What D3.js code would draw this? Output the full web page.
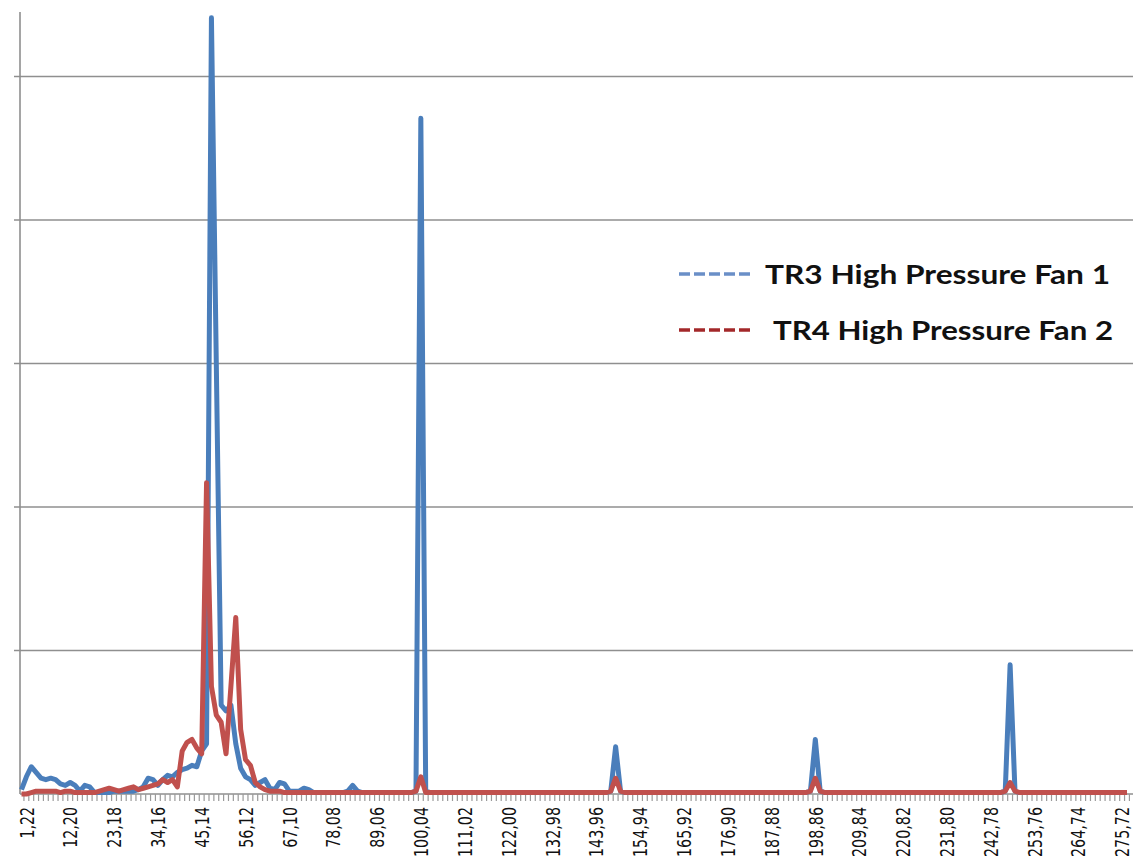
<!DOCTYPE html>
<html>
<head>
<meta charset="utf-8">
<script src="https://cdn.jsdelivr.net/npm/d3@7"></script>
<style>
  body { margin: 0; background: #fff; }
  svg { display: block; }
</style>
</head>
<body>
<div id="chart"></div>
<script>
// spectrum, one point per 1,22 Hz bin (index 0 .. 227)
var tr3 = [
  0.03, 0.12, 0.19, 0.15, 0.11, 0.10, 0.11, 0.10, 0.07, 0.06,
  0.08, 0.06, 0.02, 0.06, 0.05, 0.01, 0.01, 0.01, 0.01, 0.02,
  0.02, 0.02, 0.02, 0.02, 0.03, 0.05, 0.11, 0.10, 0.06, 0.10,
  0.13, 0.12, 0.15, 0.17, 0.18, 0.20, 0.19, 0.30, 0.35, 5.41,
  3.00, 0.62, 0.58, 0.62, 0.35, 0.18, 0.12, 0.10, 0.06, 0.08,
  0.10, 0.04, 0.03, 0.08, 0.07, 0.02, 0.02, 0.02, 0.04, 0.03,
  0.01, 0.01, 0.01, 0.01, 0.01, 0.01, 0.01, 0.02, 0.06, 0.02,
  0.01, 0.01, 0.01, 0.01, 0.01, 0.01, 0.01, 0.01, 0.01, 0.01,
  0.01, 0.02, 4.71, 0.02, 0.01, 0.01, 0.01, 0.01, 0.01, 0.01,
  0.01, 0.01, 0.01, 0.01, 0.01, 0.01, 0.01, 0.01, 0.01, 0.01,
  0.01, 0.01, 0.01, 0.01, 0.01, 0.01, 0.01, 0.01, 0.01, 0.01,
  0.01, 0.01, 0.01, 0.01, 0.01, 0.01, 0.01, 0.01, 0.01, 0.01,
  0.01, 0.02, 0.33, 0.02, 0.01, 0.01, 0.01, 0.01, 0.01, 0.01,
  0.01, 0.01, 0.01, 0.01, 0.01, 0.01, 0.01, 0.01, 0.01, 0.01,
  0.01, 0.01, 0.01, 0.01, 0.01, 0.01, 0.01, 0.01, 0.01, 0.01,
  0.01, 0.01, 0.01, 0.01, 0.01, 0.01, 0.01, 0.01, 0.01, 0.01,
  0.01, 0.01, 0.02, 0.38, 0.02, 0.01, 0.01, 0.01, 0.01, 0.01,
  0.01, 0.01, 0.01, 0.01, 0.01, 0.01, 0.01, 0.01, 0.01, 0.01,
  0.01, 0.01, 0.01, 0.01, 0.01, 0.01, 0.01, 0.01, 0.01, 0.01,
  0.01, 0.01, 0.01, 0.01, 0.01, 0.01, 0.01, 0.01, 0.01, 0.01,
  0.01, 0.01, 0.02, 0.90, 0.02, 0.01, 0.01, 0.01, 0.01, 0.01,
  0.01, 0.01, 0.01, 0.01, 0.01, 0.01, 0.01, 0.01, 0.01, 0.01,
  0.01, 0.01, 0.01, 0.01, 0.01, 0.01, 0.01, 0.01
]
var tr4 = [
  0.00, 0.00, 0.01, 0.02, 0.02, 0.02, 0.02, 0.02, 0.01, 0.02,
  0.02, 0.01, 0.01, 0.01, 0.01, 0.01, 0.02, 0.03, 0.04, 0.03,
  0.02, 0.03, 0.04, 0.05, 0.03, 0.04, 0.05, 0.06, 0.07, 0.10,
  0.08, 0.10, 0.05, 0.30, 0.36, 0.38, 0.32, 0.28, 2.17, 0.75,
  0.55, 0.50, 0.28, 0.75, 1.23, 0.45, 0.24, 0.20, 0.08, 0.05,
  0.03, 0.02, 0.02, 0.02, 0.01, 0.01, 0.01, 0.01, 0.01, 0.01,
  0.01, 0.01, 0.01, 0.01, 0.01, 0.01, 0.01, 0.01, 0.01, 0.01,
  0.01, 0.01, 0.01, 0.01, 0.01, 0.01, 0.01, 0.01, 0.01, 0.01,
  0.01, 0.02, 0.12, 0.01, 0.01, 0.01, 0.01, 0.01, 0.01, 0.01,
  0.01, 0.01, 0.01, 0.01, 0.01, 0.01, 0.01, 0.01, 0.01, 0.01,
  0.01, 0.01, 0.01, 0.01, 0.01, 0.01, 0.01, 0.01, 0.01, 0.01,
  0.01, 0.01, 0.01, 0.01, 0.01, 0.01, 0.01, 0.01, 0.01, 0.01,
  0.01, 0.02, 0.11, 0.02, 0.01, 0.01, 0.01, 0.01, 0.01, 0.01,
  0.01, 0.01, 0.01, 0.01, 0.01, 0.01, 0.01, 0.01, 0.01, 0.01,
  0.01, 0.01, 0.01, 0.01, 0.01, 0.01, 0.01, 0.01, 0.01, 0.01,
  0.01, 0.01, 0.01, 0.01, 0.01, 0.01, 0.01, 0.01, 0.01, 0.01,
  0.01, 0.01, 0.02, 0.11, 0.02, 0.01, 0.01, 0.01, 0.01, 0.01,
  0.01, 0.01, 0.01, 0.01, 0.01, 0.01, 0.01, 0.01, 0.01, 0.01,
  0.01, 0.01, 0.01, 0.01, 0.01, 0.01, 0.01, 0.01, 0.01, 0.01,
  0.01, 0.01, 0.01, 0.01, 0.01, 0.01, 0.01, 0.01, 0.01, 0.01,
  0.01, 0.01, 0.02, 0.08, 0.02, 0.01, 0.01, 0.01, 0.01, 0.01,
  0.01, 0.01, 0.01, 0.01, 0.01, 0.01, 0.01, 0.01, 0.01, 0.01,
  0.01, 0.01, 0.01, 0.01, 0.01, 0.01, 0.01, 0.01
]
// category labels, every 9th bin starting at bin 1
var tickLabels = ["1,22", "12,20", "23,18", "34,16", "45,14", "56,12", "67,10", "78,08", "89,06",
  "100,04", "111,02", "122,00", "132,98", "143,96", "154,94", "165,92", "176,90", "187,88",
  "198,86", "209,84", "220,82", "231,80", "242,78", "253,76", "264,74", "275,72"]
var gridValues = [1, 2, 3, 4, 5]
var seriesNames = ["TR3 High Pressure Fan 1", "TR4 High Pressure Fan 2"]

var width = 1133, height = 865
var margin = { top: 12, left: 20, bottom: 71 }
var baseY = height - margin.bottom

var svg = d3.select("#chart").append("svg")
    .attr("width", width)
    .attr("height", height)

var x = d3.scaleLinear()
    .domain([0, tr3.length - 1])
    .range([21.5, 21.5 + (tr3.length - 1) * 4.87])

var y = d3.scaleLinear()
    .domain([0, 5.45])
    .range([baseY, margin.top])

// horizontal gridlines
svg.append("g")
    .selectAll("line")
    .data(gridValues)
    .enter().append("line")
    .attr("x1", 14).attr("x2", width)
    .attr("y1", function(d) { return y(d) }).attr("y2", function(d) { return y(d) })
    .attr("stroke", "#8f8f8f")
    .attr("stroke-width", 1.6)

// y axis line
svg.append("line")
    .attr("x1", margin.left).attr("x2", margin.left)
    .attr("y1", margin.top).attr("y2", baseY)
    .attr("stroke", "#8f8f8f")
    .attr("stroke-width", 1.6)

// x axis: small tick between every bin
var idx = d3.range(tr3.length)
var xAxis = svg.append("g").attr("transform", "translate(0," + baseY + ")")
xAxis.append("line")
    .attr("x1", margin.left).attr("x2", width)
    .attr("stroke", "#8f8f8f").attr("stroke-width", 1.6)
xAxis.selectAll(".tick")
    .data(idx)
    .enter().append("line")
    .attr("class", "tick")
    .attr("x1", function(d) { return x(d + 0.5) }).attr("x2", function(d) { return x(d + 0.5) })
    .attr("y1", 0).attr("y2", 7)
    .attr("stroke", "#9a9a9a").attr("stroke-width", 1.2)

// labels are narrow in the original, squeeze them to that length
xAxis.selectAll(".lbl")
    .data(tickLabels)
    .enter().append("text")
    .attr("class", "lbl")
    .attr("transform", function(d, i) { return "translate(" + x(1 + i * 9) + ",13) rotate(-90)" })
    .attr("dy", "0.36em")
    .attr("text-anchor", "end")
    .attr("font-family", "'Liberation Sans Narrow', 'DejaVu Sans Condensed', sans-serif")
    .attr("font-size", 20)
    .attr("fill", "#111")
    .attr("textLength", function(d) { return (d.length - 1) * 9.2 + 4 })
    .attr("lengthAdjust", "spacingAndGlyphs")
    .text(function(d) { return d })

var line = d3.line()
    .x(function(d, i) { return x(i) })
    .y(function(d) { return y(d) })

svg.append("path")
    .datum(tr3)
    .attr("d", line)
    .attr("fill", "none")
    .attr("stroke", "#4a7ebb")
    .attr("stroke-width", 5)
    .attr("stroke-linejoin", "round")

svg.append("path")
    .datum(tr4)
    .attr("d", line)
    .attr("fill", "none")
    .attr("stroke", "#c0504d")
    .attr("stroke-width", 5)
    .attr("stroke-linejoin", "round")

// legend
var legendColors = ["#6a8fc7", "#a3282a"]
var legendTextX = [765, 773]
var legend = svg.append("g")
legend.selectAll("line")
    .data(seriesNames)
    .enter().append("line")
    .attr("x1", 679).attr("x2", 753)
    .attr("y1", function(d, i) { return 274 + i * 56 }).attr("y2", function(d, i) { return 274 + i * 56 })
    .attr("stroke", function(d, i) { return legendColors[i] })
    .attr("stroke-width", 3.5)
    .attr("stroke-dasharray", "11,4")
legend.selectAll("text")
    .data(seriesNames)
    .enter().append("text")
    .attr("x", function(d, i) { return legendTextX[i] })
    .attr("y", function(d, i) { return 284 + i * 56 })
    .attr("font-family", "Lato, 'Open Sans', sans-serif")
    .attr("font-weight", "bold")
    .attr("font-size", 27)
    .attr("fill", "#111")
    .attr("textLength", function(d, i) { return i === 0 ? 345 : 340 })
    .attr("lengthAdjust", "spacingAndGlyphs")
    .text(function(d) { return d })
</script>
</body>
</html>
